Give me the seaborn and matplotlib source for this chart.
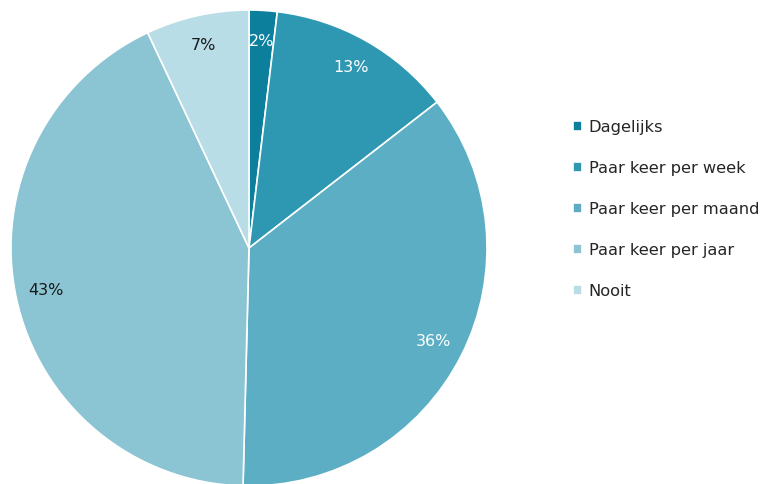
import matplotlib
matplotlib.use("Agg")
import matplotlib.pyplot as plt
import seaborn as sns

categories = ["Dagelijks", "Paar keer per week", "Paar keer per maand", "Paar keer per jaar", "Nooit"]
values = [1.9, 12.6, 35.9, 42.6, 7.0]
colors = ["#0b7f9c", "#2e98b3", "#5baec3", "#8bc4d2", "#b8dde6"]
text_colors = ["white", "white", "white", "#1a1a1a", "#1a1a1a"]

sns.set_style("white")
plt.rcParams['font.family'] = ['DejaVu Sans']

fig = plt.figure(figsize=(7.62, 4.84), dpi=100)
W, H = 762, 484
cx, cy, r = 249, 248, 238
ax = fig.add_axes([(cx - r) / W, (H - cy - r) / H, 2 * r / W, 2 * r / H])

wedges, texts, autotexts = ax.pie(
    values, colors=colors, startangle=90, counterclock=False,
    autopct=lambda p: f"{p * sum(values) / 100:.0f}%", pctdistance=0.87,
    wedgeprops=dict(edgecolor="white", linewidth=1.2),
    textprops=dict(fontsize=11.5))
for t, c in zip(autotexts, text_colors):
    t.set_color(c)
ax.set_aspect("equal")
ax.set_xlim(-1, 1)
ax.set_ylim(-1, 1)
ax.axis("off")

fig.legend(wedges, categories, loc="center left", bbox_to_anchor=(566 / W, 1 - 209 / H),
           frameon=False, fontsize=11.7, handlelength=0.6, handleheight=0.6,
           handletextpad=0.4, labelspacing=1.6, borderaxespad=0)

fig.savefig("out.png", dpi=100)
